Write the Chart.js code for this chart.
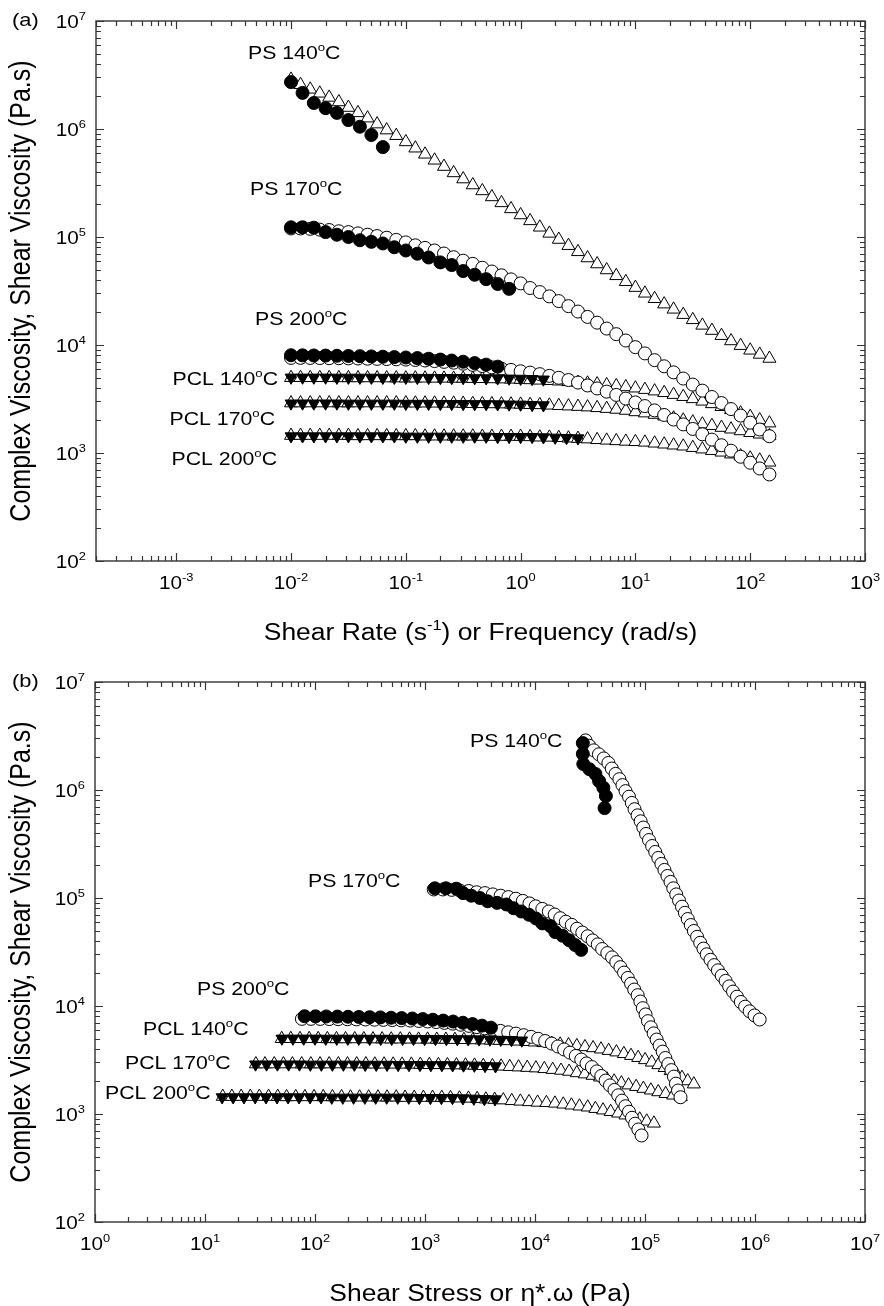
<!DOCTYPE html>
<html><head><meta charset="utf-8">
<script src="https://cdn.jsdelivr.net/npm/chart.js@4.4.1/dist/chart.umd.min.js"></script>
<style>
html,body{margin:0;padding:0;background:#fff;}
body{width:884px;height:1306px;position:relative;overflow:hidden;}
canvas{position:absolute;left:0;}
#c1{top:0;} #c2{top:661px;}
</style></head><body>
<canvas id="c1" width="884" height="661"></canvas>
<canvas id="c2" width="884" height="645"></canvas>
<script>
// ---------- DATA ----------
// angular frequency (rad/s) of the oscillatory sweeps
const freq = [0.01, 0.0121, 0.0147, 0.0178, 0.0215, 0.0261, 0.0316, 0.0383, 0.0464, 0.0562,
  0.0681, 0.0825, 0.1, 0.121, 0.147, 0.178, 0.215, 0.261, 0.316, 0.383,
  0.464, 0.562, 0.681, 0.825, 1, 1.21, 1.47, 1.78, 2.15, 2.61,
  3.16, 3.83, 4.64, 5.62, 6.81, 8.25, 10, 12.1, 14.7, 17.8,
  21.5, 26.1, 31.6, 38.3, 46.4, 56.2, 68.1, 82.5, 100, 121, 147];
// shear rate (1/s) of the steady shear tests
const shearRate = [0.01, 0.0126, 0.0158, 0.02, 0.0251, 0.0316, 0.0398, 0.0501, 0.0631, 0.0794,
  0.1, 0.126, 0.158, 0.2, 0.251, 0.316, 0.398, 0.501, 0.631, 0.794,
  1, 1.26, 1.58, 2, 2.51, 3.16];

// complex viscosity eta* (Pa.s) vs freq
const ps140Complex = [2.88e6, 2.57e6, 2.33e6, 2.14e6, 1.96e6, 1.78e6, 1.58e6, 1.41e6, 1.26e6, 1.11e6,
  9.77e5, 8.67e5, 7.59e5, 6.64e5, 5.83e5, 5.13e5, 4.49e5, 3.92e5, 3.44e5, 3.03e5,
  2.67e5, 2.35e5, 2.07e5, 1.82e5, 1.60e5, 1.41e5, 1.23e5, 1.08e5, 9.48e4, 8.31e4,
  7.29e4, 6.39e4, 5.62e4, 4.95e4, 4.37e4, 3.85e4, 3.40e4, 3.01e4, 2.68e4, 2.39e4,
  2.14e4, 1.91e4, 1.71e4, 1.52e4, 1.36e4, 1.22e4, 1.09e4, 9.86e3, 8.93e3, 8.18e3, 7.50e3];
const ps170Complex = [1.20e5, 1.20e5, 1.19e5, 1.17e5, 1.16e5, 1.13e5, 1.11e5, 1.08e5, 1.05e5, 1.02e5,
  9.84e4, 9.40e4, 8.91e4, 8.37e4, 7.93e4, 7.50e4, 7.03e4, 6.50e4, 6.03e4, 5.64e4,
  5.19e4, 4.79e4, 4.42e4, 4.05e4, 3.72e4, 3.37e4, 3.09e4, 2.82e4, 2.55e4, 2.29e4,
  2.04e4, 1.82e4, 1.61e4, 1.42e4, 1.26e4, 1.10e4, 9.55e3, 8.36e3, 7.24e3, 6.35e3,
  5.58e3, 4.89e3, 4.30e3, 3.78e3, 3.30e3, 2.90e3, 2.55e3, 2.22e3, 1.91e3, 1.65e3, 1.43e3];
const ps200Complex = [7.60e3, 7.60e3, 7.59e3, 7.57e3, 7.55e3, 7.54e3, 7.52e3, 7.50e3, 7.47e3, 7.44e3,
  7.41e3, 7.37e3, 7.33e3, 7.27e3, 7.19e3, 7.10e3, 6.98e3, 6.86e3, 6.71e3, 6.55e3,
  6.38e3, 6.21e3, 6.04e3, 5.88e3, 5.71e3, 5.55e3, 5.37e3, 5.18e3, 4.97e3, 4.74e3,
  4.49e3, 4.22e3, 3.96e3, 3.70e3, 3.45e3, 3.19e3, 2.94e3, 2.72e3, 2.48e3, 2.25e3,
  2.04e3, 1.84e3, 1.67e3, 1.49e3, 1.33e3, 1.18e3, 1.05e3, 923, 813, 719, 633];
const pcl140Complex = [4.98e3, 4.98e3, 4.97e3, 4.97e3, 4.97e3, 4.96e3, 4.96e3, 4.95e3, 4.95e3, 4.95e3,
  4.94e3, 4.94e3, 4.93e3, 4.93e3, 4.92e3, 4.91e3, 4.91e3, 4.90e3, 4.90e3, 4.88e3,
  4.87e3, 4.85e3, 4.83e3, 4.81e3, 4.78e3, 4.75e3, 4.71e3, 4.67e3, 4.62e3, 4.56e3,
  4.49e3, 4.42e3, 4.35e3, 4.27e3, 4.18e3, 4.09e3, 3.98e3, 3.86e3, 3.74e3, 3.61e3,
  3.47e3, 3.32e3, 3.17e3, 3.01e3, 2.85e3, 2.68e3, 2.51e3, 2.34e3, 2.17e3, 2.02e3, 1.89e3];
const pcl170Complex = [2.90e3, 2.90e3, 2.90e3, 2.90e3, 2.90e3, 2.90e3, 2.90e3, 2.90e3, 2.90e3, 2.90e3,
  2.90e3, 2.90e3, 2.90e3, 2.89e3, 2.89e3, 2.885e3, 2.88e3, 2.88e3, 2.87e3, 2.86e3,
  2.853e3, 2.845e3, 2.837e3, 2.828e3, 2.82e3, 2.80e3, 2.79e3, 2.765e3, 2.74e3, 2.715e3,
  2.69e3, 2.66e3, 2.62e3, 2.575e3, 2.53e3, 2.475e3, 2.40e3, 2.34e3, 2.27e3, 2.19e3,
  2.10e3, 2.01e3, 1.93e3, 1.85e3, 1.79e3, 1.72e3, 1.66e3, 1.60e3, 1.54e3, 1.49e3, 1.44e3];
const pcl200Complex = [1.45e3, 1.45e3, 1.45e3, 1.45e3, 1.45e3, 1.45e3, 1.45e3, 1.44e3, 1.44e3, 1.44e3,
  1.44e3, 1.44e3, 1.44e3, 1.44e3, 1.43e3, 1.43e3, 1.43e3, 1.43e3, 1.43e3, 1.43e3,
  1.42e3, 1.42e3, 1.42e3, 1.42e3, 1.42e3, 1.41e3, 1.40e3, 1.395e3, 1.385e3, 1.37e3,
  1.36e3, 1.345e3, 1.325e3, 1.31e3, 1.295e3, 1.28e3, 1.27e3, 1.255e3, 1.23e3, 1.205e3,
  1.18e3, 1.155e3, 1.12e3, 1.085e3, 1.05e3, 1.015e3, 975, 937, 895, 857, 820];

// steady shear viscosity eta (Pa.s) vs shearRate
const ps140Steady = [2.72e6, 2.16e6, 1.74e6, 1.56e6, 1.41e6, 1.21e6, 1.05e6, 8.8e5, 6.8e5];
const ps170Steady = [1.23e5, 1.23e5, 1.22e5, 1.11e5, 1.05e5, 1.00e5, 9.33e4, 9.02e4, 8.71e4, 8.04e4,
  7.50e4, 7.00e4, 6.46e4, 5.82e4, 5.50e4, 4.84e4, 4.47e4, 4.07e4, 3.67e4, 3.31e4];
const ps200Steady = [8.04e3, 8.02e3, 8.00e3, 7.98e3, 7.95e3, 7.92e3, 7.88e3, 7.84e3, 7.79e3, 7.73e3,
  7.66e3, 7.57e3, 7.46e3, 7.33e3, 7.18e3, 7.00e3, 6.80e3, 6.58e3, 6.30e3];
const pcl140Steady = [5.00e3, 5.00e3, 5.00e3, 5.00e3, 4.99e3, 4.99e3, 4.99e3, 4.99e3, 4.98e3, 4.98e3,
  4.98e3, 4.97e3, 4.97e3, 4.96e3, 4.96e3, 4.95e3, 4.94e3, 4.93e3, 4.92e3, 4.90e3,
  4.88e3, 4.85e3, 4.80e3];
const pcl170Steady = [2.88e3, 2.88e3, 2.88e3, 2.88e3, 2.88e3, 2.87e3, 2.87e3, 2.87e3, 2.87e3, 2.87e3,
  2.86e3, 2.86e3, 2.86e3, 2.85e3, 2.85e3, 2.85e3, 2.84e3, 2.84e3, 2.83e3, 2.82e3,
  2.81e3, 2.79e3, 2.77e3];
const pcl200Steady = [1.43e3, 1.43e3, 1.43e3, 1.43e3, 1.43e3, 1.43e3, 1.43e3, 1.43e3, 1.43e3, 1.43e3,
  1.42e3, 1.42e3, 1.42e3, 1.42e3, 1.42e3, 1.42e3, 1.42e3, 1.42e3, 1.41e3, 1.41e3,
  1.41e3, 1.41e3, 1.40e3, 1.39e3, 1.38e3, 1.37e3];

// tick label exponents (labels are 10^n)
const xTickExpA = [-3, -2, -1, 0, 1, 2, 3];
const xTickExpB = [0, 1, 2, 3, 4, 5, 6, 7];
const yTickExp = [2, 3, 4, 5, 6, 7];

// series names used for the in-plot labels
const seriesNames = ['PS 140', 'PS 170', 'PS 200', 'PCL 140', 'PCL 170', 'PCL 200'];

const titleY = 'Complex Viscosity, Shear Viscosity (Pa.s)';
const titleXA = [{t:'Shear Rate (s'}, {t:'-1', sup:true}, {t:') or Frequency (rad/s)'}];
const titleXB = [{t:'Shear Stress or \u03B7*.\u03C9 (Pa)'}];

// ---------- STYLE / LAYOUT ----------
const FONT = '"Liberation Sans", Arial, Helvetica, sans-serif';
const STRETCH = 1.15;
const MK = {
  filledCircle: {pointStyle:'circle', pointRadius:6.5, pointBackgroundColor:'#000', pointBorderColor:'#000', pointBorderWidth:1},
  openCircle:   {pointStyle:'circle', pointRadius:6.5, pointBackgroundColor:'#fff', pointBorderColor:'#000', pointBorderWidth:1},
  openTri:      {pointStyle:'triangle', pointRadius:7.5, pointBackgroundColor:'#fff', pointBorderColor:'#000', pointBorderWidth:1},
  filledDown:   {pointStyle:'triangle', pointRotation:180, pointRadius:6.8, pointBackgroundColor:'#000', pointBorderColor:'#000', pointBorderWidth:1}
};

function richWidth(ctx, segs, size){
  let w = 0;
  for (const s of segs){ ctx.font = (s.sup ? size*0.62 : size) + 'px ' + FONT; w += ctx.measureText(s.t).width * STRETCH; }
  return w;
}
function drawRich(ctx, segs, x, yBase, size, align){
  const w = richWidth(ctx, segs, size);
  let cx = align === 'center' ? x - w/2 : (align === 'right' ? x - w : x);
  ctx.textAlign = 'left'; ctx.textBaseline = 'alphabetic'; ctx.fillStyle = '#000';
  for (const s of segs){
    const fs = s.sup ? size*0.62 : size;
    ctx.font = fs + 'px ' + FONT;
    const yy = s.sup ? yBase - size*0.42 : yBase;
    ctx.save(); ctx.translate(cx, yy); ctx.scale(STRETCH, 1); ctx.fillText(s.t, 0, 0); ctx.restore();
    cx += ctx.measureText(s.t).width * STRETCH;
  }
}
function pow10(e){ return [{t:'10'}, {t:String(e), sup:true}]; }
function degLabel(name){ return [{t:name}, {t:'o', sup:true}, {t:'C'}]; }

function framePlugin(cfg){
  return {
    id: 'frame_' + cfg.id,
    afterDraw(chart){
      const ctx = chart.ctx, a = chart.chartArea, xs = chart.scales.x, ys = chart.scales.y;
      ctx.save();
      ctx.strokeStyle = '#333'; ctx.lineWidth = 1.4;
      ctx.strokeRect(a.left, a.top, a.right - a.left, a.bottom - a.top);
      ctx.lineWidth = 1.2;
      ctx.beginPath();
      const lo = Math.floor(Math.log10(xs.min)), hi = Math.ceil(Math.log10(xs.max));
      for (let d = lo; d <= hi; d++){
        for (let m = 1; m <= 9; m++){
          const v = m * Math.pow(10, d);
          if (v < xs.min*0.999 || v > xs.max*1.001) continue;
          const px = Math.round(xs.getPixelForValue(v)) + 0.5;
          const len = m === 1 ? 8 : 5;
          ctx.moveTo(px, a.bottom); ctx.lineTo(px, a.bottom - len);
          ctx.moveTo(px, a.top); ctx.lineTo(px, a.top + len);
        }
      }
      for (let d = 2; d <= 7; d++){
        for (let m = 1; m <= 9; m++){
          const v = m * Math.pow(10, d);
          if (v > ys.max*1.001) continue;
          const py = Math.round(ys.getPixelForValue(v)) + 0.5;
          const len = m === 1 ? 8 : 5;
          ctx.moveTo(a.left, py); ctx.lineTo(a.left + len, py);
          ctx.moveTo(a.right, py); ctx.lineTo(a.right - len, py);
        }
      }
      ctx.stroke();
      // tick labels
      const LS = 18;
      for (const e of cfg.xTicks){
        drawRich(ctx, pow10(e), xs.getPixelForValue(Math.pow(10, e)), a.bottom + 28, LS, 'center');
      }
      for (const e of yTickExp){
        drawRich(ctx, pow10(e), a.left - 10, ys.getPixelForValue(Math.pow(10, e)) + 6.5, LS, 'right');
      }
      // axis titles
      drawRich(ctx, cfg.xTitle, (a.left + a.right)/2, 640, 23, 'center');
      ctx.save();
      ctx.translate(22.5, (a.top + a.bottom)/2);
      ctx.scale(STRETCH, 1);
      ctx.rotate(-Math.PI/2);
      ctx.font = '25px ' + FONT; ctx.fillStyle = '#000';
      ctx.textAlign = 'center'; ctx.textBaseline = 'middle';
      ctx.fillText(titleY, 0, 0);
      ctx.restore();
      // panel tag
      drawRich(ctx, [{t:cfg.tag}], 12, 26, 19, 'left');
      // series labels
      cfg.labels.forEach((p, i) => {
        drawRich(ctx, degLabel(seriesNames[i]), p[0], p[1] + 6.6, 18.5, p[2]);
      });
      ctx.restore();
    }
  };
}

function pts(xArr, yArr, stress){
  return yArr.map((v, i) => ({x: stress ? xArr[i] * v : xArr[i], y: v}));
}

function buildDatasets(stress){
  const ds = [];
  const add = (arr, xArr, style) => ds.push(Object.assign({data: pts(xArr, arr, stress), showLine:false}, style));
  // steady shear (filled) drawn on top
  add(ps140Steady, shearRate, MK.filledCircle);
  add(ps170Steady, shearRate, MK.filledCircle);
  add(ps200Steady, shearRate, MK.filledCircle);
  add(pcl140Steady, shearRate, MK.filledDown);
  add(pcl170Steady, shearRate, MK.filledDown);
  add(pcl200Steady, shearRate, MK.filledDown);
  // complex viscosity (open)
  add(ps170Complex, freq, MK.openCircle);
  add(ps200Complex, freq, MK.openCircle);
  add(ps140Complex, freq, stress ? MK.openCircle : MK.openTri);
  add(pcl140Complex, freq, MK.openTri);
  add(pcl170Complex, freq, MK.openTri);
  add(pcl200Complex, freq, MK.openTri);
  return ds;
}

function makeChart(cfg){
  return new Chart(document.getElementById(cfg.id), {
    type: 'scatter',
    data: {datasets: buildDatasets(cfg.stress)},
    options: {
      responsive: false, animation: false, devicePixelRatio: 1, events: [],
      layout: {padding: cfg.padding},
      scales: {
        x: {type:'logarithmic', display:false, min:cfg.xmin, max:cfg.xmax},
        y: {type:'logarithmic', display:false, min:1e2, max:1e7}
      },
      plugins: {legend:{display:false}, tooltip:{enabled:false}}
    },
    plugins: [framePlugin(cfg)]
  });
}

makeChart({
  id:'c1', stress:false, xmin:2e-4, xmax:1e3, tag:'(a)',
  padding:{left:96, right:19, top:21, bottom:100},
  xTicks: xTickExpA, xTitle: titleXA,
  labels: [[248, 52, 'left'], [250, 188, 'left'], [255, 318, 'left'], [278, 378, 'right'], [275, 418, 'right'], [277, 458, 'right']]
});
makeChart({
  id:'c2', stress:true, xmin:1, xmax:1e7, tag:'(b)',
  padding:{left:95, right:19, top:21, bottom:84},
  xTicks: xTickExpB, xTitle: titleXB,
  labels: [[470, 79, 'left'], [308, 219, 'left'], [197, 327, 'left'], [143, 367, 'left'], [125, 401, 'left'], [105, 431, 'left']]
});
</script>
</body></html>
